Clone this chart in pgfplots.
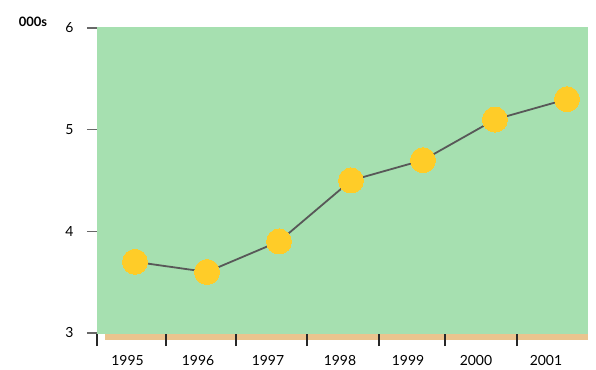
\documentclass[border=0pt]{standalone}
\usepackage{fontspec}
\setmainfont{Lato}
\usepackage{pgfplots}
\pgfplotsset{compat=1.18}
\definecolor{bggreen}{RGB}{166,224,176}
\definecolor{stripcol}{RGB}{234,196,142}
\definecolor{dotcol}{RGB}{255,204,40}
\definecolor{linecol}{RGB}{88,88,88}
\definecolor{tickcol}{RGB}{40,40,40}
\begin{document}
\begin{tikzpicture}
\begin{axis}[
  scale only axis,
  width=491bp, height=307bp,
  xmin=-0.528, xmax=6.292,
  ymin=2.99, ymax=6.01,
  clip=false,
  axis on top,
  axis background/.style={fill=bggreen},
  axis line style={draw=none},
  tick pos=left,
  tick align=outside,
  major tick length=10bp,
  minor tick length=12bp,
  xtick={-0.104,0.875,1.847,2.847,3.792,4.736,5.708},
  xticklabels={1995,1996,1997,1998,1999,2000,2001},
  major x tick style={draw=none},
  minor xtick={-0.528,0.431,1.403,2.389,3.389,4.306,5.306},
  minor x tick style={draw=tickcol, line width=1.2bp},
  ytick={3,4,5,6},
  y tick style={draw=tickcol!70, line width=1.2bp},
  /pgf/number format/assume math mode=true,
  ticklabel style={font=\fontsize{14}{16}\selectfont, text=black},
  xticklabel style={yshift=-8bp},
  yticklabel style={xshift=-10bp},
]
\fill[stripcol] (axis cs:-0.417,2.99) rectangle (axis cs:6.292,2.931);
\addplot[color=linecol, line width=1.8bp, mark=*, mark size=12.5bp,
  mark options={fill=dotcol, draw=dotcol, line width=0pt}]
  coordinates {(0,3.7) (1,3.6) (2,3.9) (3,4.5) (4,4.7) (5,5.1) (6,5.3)};
\node[font=\fontsize{13}{15}\selectfont\bfseries] at (rel axis cs:0,1) [xshift=-64bp, yshift=5bp] {000s};
\end{axis}
\path (current axis.south west) ++(-97bp,-31bp) rectangle ++(596bp,365bp);
\end{tikzpicture}
\end{document}
